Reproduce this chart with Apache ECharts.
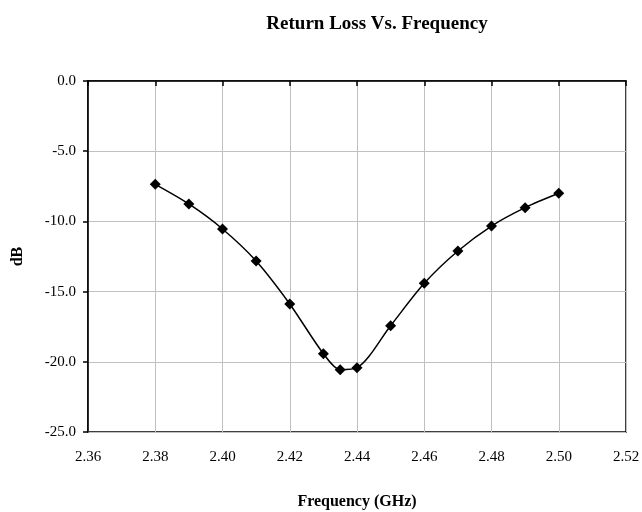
<!DOCTYPE html>
<html>
<head>
<meta charset="utf-8">
<script src="https://cdn.jsdelivr.net/npm/echarts@6/dist/echarts.min.js"></script>
<style>
  html, body { margin: 0; padding: 0; background: #fff; }
  #root { width: 642px; height: 512px; }
</style>
</head>
<body>
<div id="root"></div>
<script>
// frequency points (GHz)
const freq = [2.38, 2.39, 2.40, 2.41, 2.42, 2.43, 2.435, 2.44, 2.45, 2.46, 2.47, 2.48, 2.49, 2.50];
// return loss (dB)
const returnLoss = [-7.36, -8.76, -10.54, -12.82, -15.88, -19.42, -20.56, -20.42, -17.43, -14.41, -12.11, -10.33, -9.02, -8.0];

const serif = 'Liberation Serif, Times New Roman, serif';

let myChart = echarts.init(document.querySelector('#root'));

let option = {
  backgroundColor: '#fff',
  animation: false,
  title: {
    text: 'Return Loss Vs. Frequency',
    left: 372,
    textAlign: 'center',
    top: 10,
    textStyle: { fontFamily: serif, fontWeight: 'bold', fontSize: 19, color: '#000' }
  },
  grid: {
    left: 88, right: 16, top: 81, bottom: 80,
    outerBoundsMode: 'none',
    containLabel: false,
    show: true, borderColor: '#000', borderWidth: 1.5, backgroundColor: '#fff'
  },
  xAxis: {
    type: 'value',
    min: 2.36, max: 2.52, interval: 0.02,
    name: 'Frequency (GHz)',
    nameLocation: 'middle',
    nameGap: 62,
    nameTextStyle: { fontFamily: serif, fontWeight: 'bold', fontSize: 16, color: '#000' },
    axisLine: { show: true, lineStyle: { color: '#000', width: 1.5 } },
    axisTick: { show: true, inside: false, length: 5, lineStyle: { color: '#000', width: 1.5 } },
    axisLabel: {
      fontFamily: serif, fontSize: 15, color: '#000', margin: 18,
      formatter: v => v.toFixed(2)
    },
    splitLine: { show: true, lineStyle: { color: '#c0c0c0', width: 1 } }
  },
  yAxis: {
    type: 'value',
    min: -25, max: 0, interval: 5,
    name: 'dB',
    nameLocation: 'middle',
    nameGap: 62,
    nameTextStyle: { fontFamily: serif, fontWeight: 'bold', fontSize: 16, color: '#000' },
    axisLine: { show: true, lineStyle: { color: '#000', width: 1.5 } },
    axisTick: { show: true, inside: false, length: 5, lineStyle: { color: '#000', width: 1.5 } },
    axisLabel: {
      fontFamily: serif, fontSize: 15, color: '#000', margin: 12,
      formatter: v => v.toFixed(1)
    },
    splitLine: { show: true, lineStyle: { color: '#c0c0c0', width: 1 } }
  },
  series: [{
    type: 'line',
    data: freq.map((f, i) => [f, returnLoss[i]]),
    smooth: 0.3,
    symbol: 'diamond',
    symbolSize: 11,
    showAllSymbol: true,
    lineStyle: { color: '#000', width: 1.5 },
    itemStyle: { color: '#000' }
  }]
};

myChart.setOption(option);
</script>
</body>
</html>
